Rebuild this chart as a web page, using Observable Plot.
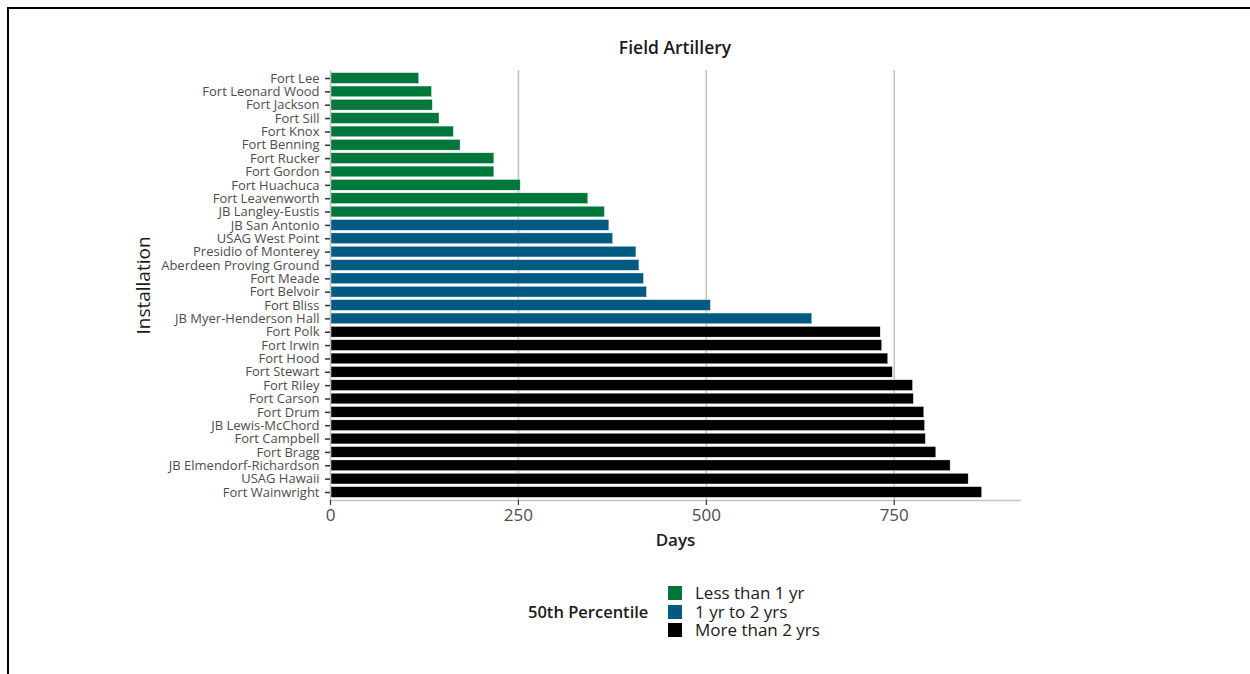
<!DOCTYPE html>
<html>
<head>
<meta charset="utf-8">
<script src="https://cdn.jsdelivr.net/npm/d3@7"></script>
<script src="https://cdn.jsdelivr.net/npm/@observablehq/plot@0.6"></script>
<style>
  html, body { margin: 0; padding: 0; background: #fff; }
  body { width: 1250px; height: 674px; overflow: hidden; position: relative; font-family: "Open Sans", "Liberation Sans", sans-serif; }
  #border { position: absolute; left: 7px; top: 7px; width: 1300px; height: 700px; border-top: 2px solid #000; border-left: 2px solid #000; box-sizing: border-box; }
  #title { position: absolute; left: 330px; width: 690px; top: 35px; text-align: center; font-size: 17.5px; font-weight: 600; color: #1a1a1a; line-height: 24px; }
  #chart { position: absolute; left: 0; top: 60px; }
  .sw { position: absolute; width: 14px; height: 14px; }
  .lt { position: absolute; font-size: 17px; color: #1a1a1a; line-height: 18px; }
</style>
</head>
<body>
<div id="border"></div>
<div id="title">Field Artillery</div>
<div id="chart"></div>
<div id="legendwrap"></div>
<script>
const installations = [
  "Fort Lee", "Fort Leonard Wood", "Fort Jackson", "Fort Sill", "Fort Knox",
  "Fort Benning", "Fort Rucker", "Fort Gordon", "Fort Huachuca", "Fort Leavenworth",
  "JB Langley-Eustis", "JB San Antonio", "USAG West Point", "Presidio of Monterey",
  "Aberdeen Proving Ground", "Fort Meade", "Fort Belvoir", "Fort Bliss",
  "JB Myer-Henderson Hall", "Fort Polk", "Fort Irwin", "Fort Hood", "Fort Stewart",
  "Fort Riley", "Fort Carson", "Fort Drum", "JB Lewis-McChord", "Fort Campbell",
  "Fort Bragg", "JB Elmendorf-Richardson", "USAG Hawaii", "Fort Wainwright"
];
const days = [
  118, 135, 136, 145, 164, 173, 218, 218, 253, 343,
  365, 371, 376, 407, 411, 417, 421, 506, 641, 732,
  734, 742, 748, 775, 776, 790, 791, 792, 806, 825, 849, 867
];
const groupLabels = ["Less than 1 yr", "1 yr to 2 yrs", "More than 2 yrs"];
const groupColors = ["#00773a", "#005a82", "#000000"];
const groups = [
  0,0,0,0,0,0,0,0,0,0,0,
  1,1,1,1,1,1,1,1,
  2,2,2,2,2,2,2,2,2,2,2,2,2
];
const xTicks = [0, 250, 500, 750];
const xMax = 918;

const data = installations.map((name, i) => ({name, days: days[i], group: groupLabels[groups[i]]}));

const plot = Plot.plot({
  width: 1250,
  height: 500,
  marginTop: 10,
  marginBottom: 60,
  marginLeft: 330,
  marginRight: 230,
  style: {fontFamily: '"Open Sans", "Liberation Sans", sans-serif', background: "transparent"},
  x: {domain: [0, xMax], ticks: xTicks},
  y: {domain: installations, paddingInner: 0.2, paddingOuter: 0.2, round: false},
  color: {domain: groupLabels, range: groupColors},
  marks: [
    Plot.ruleX(xTicks.filter(d => d > 0), {stroke: "#c4c4c4", strokeWidth: 1.6}),
    Plot.barX(data, {y: "name", x: "days", fill: "group", stroke: "#e8efe8", strokeWidth: 0.4}),
    Plot.ruleX([0], {stroke: "#c4c4c4", strokeWidth: 1.6}),
    Plot.frame({anchor: "bottom", stroke: "#c4c4c4", strokeWidth: 1.6}),
    Plot.axisY({tickSize: 5, tickPadding: 6, fontSize: 13, color: "#4d4d4d", stroke: "#333", strokeWidth: 1.5, label: null}),
    Plot.axisX({ticks: xTicks, tickSize: 5, tickPadding: 3, fontSize: 17, color: "#4d4d4d", stroke: "#333", strokeWidth: 1.2, label: null, tickFormat: d => String(d)}),
    Plot.text(["Days"], {frameAnchor: "bottom", dy: 40, lineAnchor: "middle", textAnchor: "middle", fontSize: 17, fontWeight: 600, fill: "#1a1a1a"}),
    Plot.text(["Installation"], {frameAnchor: "left", dx: -187, rotate: -90, textAnchor: "middle", lineAnchor: "middle", fontSize: 19, fill: "#1a1a1a"})
  ]
});
document.getElementById("chart").appendChild(plot);

// legend below the chart
const lw = document.getElementById("legendwrap");
const lt = document.createElement("div");
lt.textContent = "50th Percentile";
lt.style.cssText = "position:absolute;left:528px;top:601px;font-size:16.5px;font-weight:600;color:#1a1a1a;line-height:22px;";
lw.appendChild(lt);
groupLabels.forEach((g, i) => {
  const top = 586 + i * 18.5;
  const sw = document.createElement("div");
  sw.className = "sw";
  sw.style.left = "668px";
  sw.style.top = top + "px";
  sw.style.background = groupColors[i];
  lw.appendChild(sw);
  const t = document.createElement("div");
  t.className = "lt";
  t.textContent = g;
  t.style.left = "695px";
  t.style.top = (top - 2) + "px";
  lw.appendChild(t);
});
</script>
</body>
</html>
